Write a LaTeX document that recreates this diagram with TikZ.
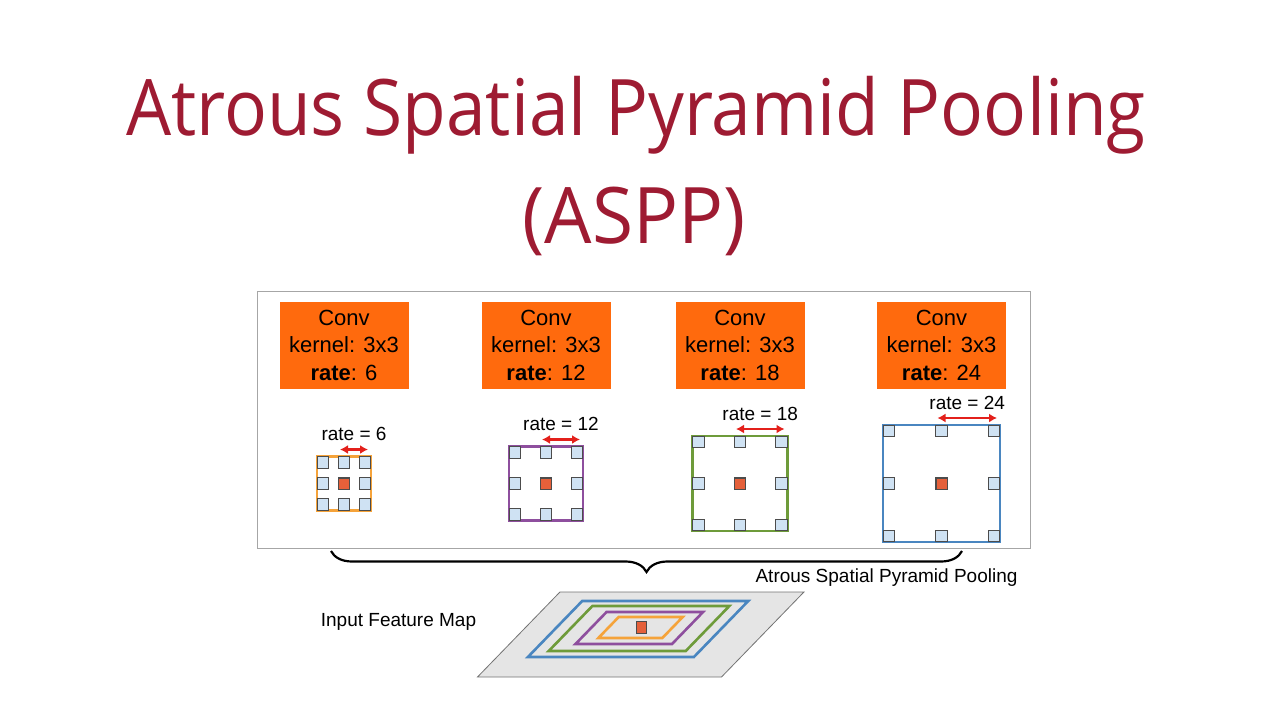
\documentclass[tikz,border=0pt]{standalone}
\usepackage{fontspec}
\setmainfont{Liberation Sans}
\newfontfamily\titlefont{Open Sans}
\usetikzlibrary{arrows.meta,decorations.pathreplacing}
\definecolor{titulo}{HTML}{9E1B32}
\definecolor{naranja}{HTML}{FF6A0D}
\definecolor{celda}{HTML}{CFE2F3}
\definecolor{centroc}{HTML}{E5603A}
\definecolor{kuno}{HTML}{F5A33A}
\definecolor{kdos}{HTML}{8E4F9E}
\definecolor{ktres}{HTML}{6E9B3A}
\definecolor{kcuatro}{HTML}{4A86C0}
\definecolor{flecha}{HTML}{E3201B}
\begin{document}
\begin{tikzpicture}[x=1pt,y=-1pt,line width=1pt,>={Latex[length=8pt,width=9pt]},
  convbox/.style={fill=naranja,minimum width=129pt,minimum height=87pt,inner sep=0pt,
    align=center,font=\fontsize{22}{27.5}\selectfont},
  kernel/.style={draw,line width=2.4pt,minimum size=#1,inner sep=0pt},
  tap/.style={draw=black!70,line width=0.8pt,fill=celda,minimum size=11.5pt,inner sep=0pt},
  centro/.style={draw=black!70,line width=0.8pt,fill=centroc,minimum size=11pt,inner sep=0pt},
  ratearrow/.style={<->,draw=flecha,line width=2.4pt},
  etiqueta/.style={font=\fontsize{19}{22}\selectfont},
  mapa/.style={line width=2.6pt}]
  \useasboundingbox (0,0) rectangle (1280,720);
  % titulo
  \node[anchor=base,text=titulo,font=\titlefont\fontsize{78}{90}\selectfont] (tit) at (636,135)
    {\scalebox{0.914}[1]{Atrous Spatial Pyramid Pooling}};
  \node[anchor=base,text=titulo,font=\titlefont\fontsize{78}{90}\selectfont] (sigla) at (634,243)
    {\scalebox{0.96}[1]{(ASPP)}};
  % marco del bloque aspp
  \draw[gray!70] (257,291) rectangle (1030,548);
  % convoluciones y nucleos dilatados
  \foreach \n/\cx/\s/\col/\r in {1/344/54/kuno/6,2/546/74/kdos/12,3/740/95/ktres/18,4/941.5/117/kcuatro/24}{
    \node[convbox] (conv\n) at (\cx,345) {Conv\\kernel: 3x3\\\textbf{rate}: \r};
    \pgfmathsetmacro\o{\s/2-6}
    \node[kernel=\s pt,draw=\col] (k\n) at (\cx,483.5) {};
    \foreach \i in {-1,0,1}
      \foreach \j in {-1,0,1}
        \node[tap] (t\n\i\j) at ({\cx+\i*\o},{483.5+\j*\o}) {};
    \node[centro] (c\n) at (k\n) {};
    \coordinate (al\n) at ({\cx-4},{483.5-\s/2-7});
    \coordinate (ar\n) at ({\cx+\o+3},{483.5-\s/2-7});
    \draw[ratearrow] (al\n) -- (ar\n) node[midway,above=4pt,etiqueta,text=black] (r\n) {rate = \r};
  }
  % llave
  \coordinate (bi) at (331,551);
  \coordinate (bd) at (962,551);
  \draw[decorate,decoration={brace,mirror,amplitude=21pt},line width=2.2pt] (bi) -- (bd);
  \node[etiqueta] (aspp) at (886.5,578) {Atrous Spatial Pyramid Pooling};
  \node[etiqueta] (ifm) at (398.5,622) {Input Feature Map};
  % mapa de entrada inclinado
  \begin{scope}[shift={(640,627)},xslant=0.97]
    \draw[fill=black!10,draw=black!55,line width=0.8pt] (-114,-35) rectangle (130,50);
    \draw[mapa,kcuatro] (-83,-26) rectangle (83,30);
    \draw[mapa,ktres] (-68,-21) rectangle (69,24);
    \draw[mapa,kdos] (-48,-15) rectangle (48.5,17);
    \draw[mapa,kuno] (-31,-10) rectangle (33,11);
  \end{scope}
  \node[centro,minimum width=10pt,minimum height=12pt] (px) at (641,627.5) {};
\end{tikzpicture}
\end{document}
